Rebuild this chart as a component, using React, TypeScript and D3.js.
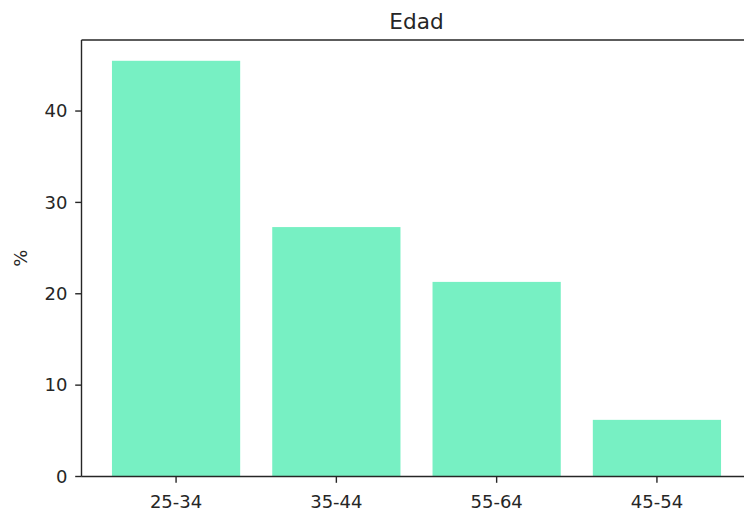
import React from 'react';
import { scaleLinear, max as d3Max } from 'd3';

const categories = ['25-34', '35-44', '55-64', '45-54'];
const values = [45.5, 27.3, 21.3, 6.2];
const yTicks = [0, 10, 20, 30, 40];

const App: React.FC = () => {
    const width = 744;
    const height = 512;
    const plot = { left: 81.5, top: 40, bottom: 476.5, right: 751.5 };
    const font = '"DejaVu Sans", sans-serif';
    const ink = '#262626';

    // matplotlib-like limits: bars of width 0.8, 5% margins
    const barW = 0.8;
    const n = categories.length;
    const lo = -barW / 2;
    const hi = n - 1 + barW / 2;
    const pad = (hi - lo) * 0.05;
    const xScale = scaleLinear().domain([lo - pad, hi + pad]).range([plot.left, plot.right]);

    const yMax = (d3Max(values) || 1) * 1.05;
    const yScale = scaleLinear().domain([0, yMax]).range([plot.bottom, plot.top]);

    return (
        <svg width={width} height={height} style={{ position: 'absolute', left: 0, top: 0, background: '#fff' }}>
            {/* Bars */}
            <g>
                {values.map((v, i) => (
                    <rect
                        key={categories[i]}
                        x={xScale(i - barW / 2)}
                        y={yScale(v)}
                        width={xScale(i + barW / 2) - xScale(i - barW / 2)}
                        height={yScale(0) - yScale(v)}
                        fill="#77f0c3"
                    />
                ))}
            </g>

            {/* Spines */}
            <g stroke={ink} strokeWidth={1.4} fill="none">
                <line x1={plot.left} x2={plot.left} y1={plot.top} y2={plot.bottom} />
                <line x1={plot.left} x2={plot.right} y1={plot.bottom} y2={plot.bottom} />
                <line x1={plot.left} x2={plot.right} y1={plot.top} y2={plot.top} />
                <line x1={plot.right} x2={plot.right} y1={plot.top} y2={plot.bottom} />
            </g>

            {/* Y axis ticks */}
            <g fontFamily={font} fontSize={18} fill={ink}>
                {yTicks.map(t => (
                    <g key={t} transform={`translate(0,${yScale(t)})`}>
                        <line x1={plot.left - 6.3} x2={plot.left} stroke={ink} strokeWidth={1.4} />
                        <text x={plot.left - 14} dy="0.35em" textAnchor="end">{t}</text>
                    </g>
                ))}
            </g>

            {/* X axis ticks */}
            <g fontFamily={font} fontSize={18} fill={ink}>
                {categories.map((c, i) => (
                    <g key={c} transform={`translate(${xScale(i)},0)`}>
                        <line y1={plot.bottom} y2={plot.bottom + 6.3} stroke={ink} strokeWidth={1.4} />
                        <text y={plot.bottom + 31} textAnchor="middle">{c}</text>
                    </g>
                ))}
            </g>

            {/* Labels */}
            <text
                transform={`translate(27,${(plot.top + plot.bottom) / 2}) rotate(-90)`}
                textAnchor="middle"
                fontFamily={font}
                fontSize={18}
                fill={ink}
            >
                %
            </text>
            <text
                x={(plot.left + plot.right) / 2}
                y={plot.top - 11}
                textAnchor="middle"
                fontFamily={font}
                fontSize={21.6}
                fill={ink}
            >
                Edad
            </text>
        </svg>
    );
};

export default App;
